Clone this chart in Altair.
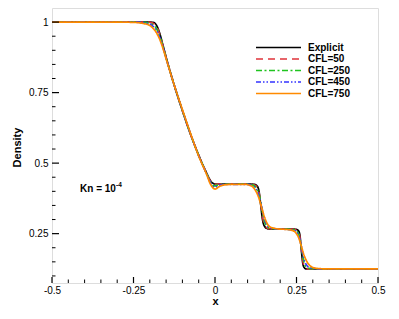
import altair as alt
import pandas as pd

# x positions (shared by all series)
xs = [-0.5, -0.3, -0.25, -0.22, -0.2, -0.19, -0.18, -0.17, -0.16, -0.15, -0.125, -0.1,
      -0.075, -0.05, -0.025, -0.015, -0.01, -0.005, 0, 0.005, 0.01, 0.03, 0.06, 0.09,
      0.11, 0.12, 0.13, 0.135, 0.14, 0.145, 0.15, 0.16, 0.17, 0.2, 0.22, 0.24, 0.25,
      0.255, 0.26, 0.265, 0.27, 0.275, 0.28, 0.29, 0.3, 0.32, 0.35, 0.5]

explicit = [1, 1, 1, 1, 1, 0.999, 0.99, 0.962, 0.92, 0.876, 0.776, 0.686, 0.602, 0.528,
            0.463, 0.44, 0.432, 0.428, 0.426, 0.426, 0.426, 0.426, 0.426, 0.426, 0.426,
            0.425, 0.418, 0.4, 0.355, 0.305, 0.28, 0.268, 0.266, 0.266, 0.266, 0.266,
            0.265, 0.262, 0.248, 0.19, 0.14, 0.128, 0.125, 0.125, 0.125, 0.125, 0.125, 0.125]
cfl50 = [1, 1, 1, 1, 0.999, 0.996, 0.985, 0.958, 0.918, 0.875, 0.776, 0.686, 0.602, 0.528,
         0.462, 0.438, 0.43, 0.425, 0.424, 0.425, 0.426, 0.426, 0.426, 0.426, 0.425, 0.423,
         0.413, 0.395, 0.36, 0.315, 0.288, 0.27, 0.267, 0.266, 0.266, 0.265, 0.263, 0.258,
         0.24, 0.195, 0.15, 0.132, 0.127, 0.125, 0.125, 0.125, 0.125, 0.125]
cfl250 = [1, 1, 1, 0.999, 0.996, 0.99, 0.978, 0.952, 0.915, 0.873, 0.776, 0.687, 0.603,
          0.527, 0.461, 0.435, 0.426, 0.42, 0.419, 0.421, 0.423, 0.425, 0.426, 0.426, 0.424,
          0.42, 0.405, 0.39, 0.365, 0.33, 0.3, 0.275, 0.268, 0.266, 0.266, 0.264, 0.26,
          0.252, 0.235, 0.2, 0.165, 0.142, 0.132, 0.127, 0.126, 0.125, 0.125, 0.125]
cfl450 = [1, 1, 1, 0.998, 0.993, 0.985, 0.972, 0.947, 0.913, 0.872, 0.776, 0.688, 0.604,
          0.526, 0.46, 0.433, 0.423, 0.417, 0.415, 0.417, 0.42, 0.424, 0.425, 0.425, 0.422,
          0.415, 0.398, 0.382, 0.36, 0.335, 0.31, 0.28, 0.27, 0.266, 0.265, 0.262, 0.256,
          0.247, 0.23, 0.205, 0.175, 0.152, 0.14, 0.13, 0.127, 0.125, 0.125, 0.125]
cfl750 = [1, 1, 0.999, 0.995, 0.988, 0.978, 0.963, 0.94, 0.908, 0.87, 0.776, 0.69, 0.605,
          0.525, 0.458, 0.428, 0.418, 0.411, 0.408, 0.41, 0.415, 0.423, 0.425, 0.425, 0.42,
          0.41, 0.39, 0.375, 0.355, 0.335, 0.315, 0.286, 0.273, 0.266, 0.265, 0.26, 0.25,
          0.24, 0.225, 0.205, 0.185, 0.168, 0.155, 0.138, 0.13, 0.126, 0.125, 0.125]

names = ["Explicit", "CFL=50", "CFL=250", "CFL=450", "CFL=750"]
series_vals = [explicit, cfl50, cfl250, cfl450, cfl750]
colors = ["#000000", "#e0333a", "#1fc41f", "#3333ff", "#ff8a00"]
dashes = [[1, 0], [7, 5], [6, 2.5, 2, 2.5], [5, 2, 1.5, 2, 1.5, 2], [1, 0]]

y_major = [0.25, 0.5, 0.75, 1.0]
y_minor = [0.1, 0.15, 0.2, 0.3, 0.35, 0.4, 0.45, 0.55, 0.6, 0.65, 0.7, 0.8, 0.85, 0.9, 0.95]
x_major = [-0.5, -0.25, 0, 0.25, 0.5]
x_minor = [-0.45, -0.4, -0.35, -0.3, -0.2, -0.15, -0.1, -0.05, 0.05, 0.1, 0.15, 0.2,
           0.3, 0.35, 0.4, 0.45]

rows = []
for n, vals in zip(names, series_vals):
    for i, (xv, yv) in enumerate(zip(xs, vals)):
        rows.append({"x": xv, "y": yv, "series": n, "i": i})
df = pd.DataFrame(rows)

FONT = "Liberation Sans"
W, H = 326, 275
xscale = alt.Scale(domain=[-0.5, 0.5], nice=False, zero=False)
yscale = alt.Scale(domain=[0.075, 1.05], nice=False, zero=False)
cscale = alt.Scale(domain=names, range=colors)
dscale = alt.Scale(domain=names, range=dashes)

lines = alt.Chart(df).mark_line(strokeWidth=1.7, interpolate="monotone").encode(
    x=alt.X("x:Q", scale=xscale,
            axis=alt.Axis(values=x_major, ticks=False, tickSize=0, domain=False, grid=False,
                          labelPadding=2, labelFontSize=10, labelFont=FONT, labelColor="black",
                          title="x", titleFont=FONT, titleFontSize=11, titleFontWeight="bold",
                          titleY=18, titleBaseline="middle", titleColor="black",
                          labelFlush=False, labelExpr="'' + datum.value")),
    y=alt.Y("y:Q", scale=yscale,
            axis=alt.Axis(values=y_major, ticks=False, tickSize=0, domain=False, grid=False,
                          labelPadding=4, labelFontSize=10, labelFont=FONT, labelColor="black",
                          title="Density", titleFont=FONT, titleFontSize=11,
                          titleFontWeight="bold", titleX=-35, titleY=139,
                          titleBaseline="middle", titleColor="black", labelFlush=False,
                          labelExpr="'' + datum.value")),
    color=alt.Color("series:N", scale=cscale, legend=None),
    strokeDash=alt.StrokeDash("series:N", scale=dscale, legend=None),
    detail="series:N",
    order="i:Q",
)

ym = pd.DataFrame({"v": y_major})
yn = pd.DataFrame({"v": y_minor})
xm = pd.DataFrame({"v": x_major})
xn = pd.DataFrame({"v": x_minor})

ytick_major = alt.Chart(ym).mark_rule(color="black", strokeWidth=1.2).encode(
    y=alt.Y("v:Q", scale=yscale), x=alt.value(0), x2=alt.value(7))
ytick_minor = alt.Chart(yn).mark_rule(color="black", strokeWidth=1).encode(
    y=alt.Y("v:Q", scale=yscale), x=alt.value(0), x2=alt.value(3.5))
xtick_major = alt.Chart(xm).mark_rule(color="black", strokeWidth=1.2).encode(
    x=alt.X("v:Q", scale=xscale), y=alt.value(H), y2=alt.value(H - 6))
xtick_minor = alt.Chart(xn).mark_rule(color="black", strokeWidth=1).encode(
    x=alt.X("v:Q", scale=xscale), y=alt.value(H), y2=alt.value(H - 3.5))

kn = alt.Chart(pd.DataFrame({"t": ["Kn = 10"]})).mark_text(
    align="left", baseline="middle", font=FONT, fontSize=10, fontWeight="bold", color="black"
).encode(x=alt.datum(-0.414), y=alt.datum(0.41), text="t:N")
kn_sup = alt.Chart(pd.DataFrame({"t": ["-4"]})).mark_text(
    align="left", baseline="middle", font=FONT, fontSize=6.5, fontWeight="bold", color="black",
    dx=36, dy=-4
).encode(x=alt.datum(-0.414), y=alt.datum(0.41), text="t:N")

base = alt.layer(lines, ytick_major, ytick_minor, xtick_major, xtick_minor, kn, kn_sup)

leg_df = pd.DataFrame({"series": names})
leg_y = alt.Y("series:N", sort=names,
              scale=alt.Scale(type="point", domain=names, range=[39.5, 85.5], padding=0),
              axis=None)
leg_lines = alt.Chart(leg_df).mark_rule(strokeWidth=1.7).encode(
    y=leg_y, x=alt.value(204), x2=alt.value(249),
    color=alt.Color("series:N", scale=cscale, legend=None),
    strokeDash=alt.StrokeDash("series:N", scale=dscale, legend=None))
leg_text = alt.Chart(leg_df).mark_text(
    align="left", baseline="middle", font=FONT, fontSize=10, fontWeight="bold", color="black"
).encode(y=leg_y, x=alt.value(256), text="series:N")

chart = alt.layer(base, leg_lines, leg_text).resolve_scale(y="independent").properties(
    width=W, height=H,
    autosize=alt.AutoSizeParams(type="none"),
    padding={"left": 44, "top": 0, "right": 13, "bottom": 28},
).configure_view(stroke="black", strokeWidth=2).configure(background="white")

chart.save("out.html", embed_options={"renderer": "svg", "actions": False})
